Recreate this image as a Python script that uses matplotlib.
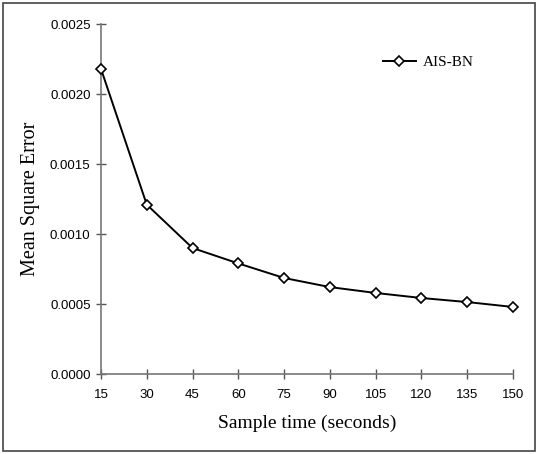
import matplotlib
matplotlib.use("Agg")
import matplotlib.pyplot as plt
from matplotlib.patches import Rectangle

sample_time = [15, 30, 45, 60, 75, 90, 105, 120, 135, 150]
mse_aisbn = [0.00218, 0.00121, 0.00090, 0.00079, 0.000686, 0.000621,
             0.000579, 0.000543, 0.000514, 0.000479]
y_ticks = [0.0, 0.0005, 0.0010, 0.0015, 0.0020, 0.0025]

fig = plt.figure(figsize=(5.38, 4.54), dpi=100)
ax = fig.add_axes([0.1877, 0.1762, 0.7658, 0.7708])

ax.plot(sample_time, mse_aisbn, color="black", lw=1.4, marker="D",
        markersize=5, markerfacecolor="white", markeredgecolor="black",
        markeredgewidth=1.2, clip_on=False, label="AIS-BN", zorder=3)

ax.set_xlim(15, 150)
ax.set_ylim(0, 0.0025)
ax.set_xticks(sample_time)
ax.set_yticks(y_ticks)
ax.set_yticklabels(["%.4f" % v for v in y_ticks])

for s in ["top", "right"]:
    ax.spines[s].set_visible(False)
for s in ["left", "bottom"]:
    ax.spines[s].set_color("#777777")
    ax.spines[s].set_linewidth(1.2)

ax.tick_params(direction="inout", length=7, width=1.0, color="#555555",
               labelsize=9.5)
ax.tick_params(axis="x", pad=7)
ax.tick_params(axis="y", pad=4)
for lbl in ax.get_xticklabels() + ax.get_yticklabels():
    lbl.set_fontfamily("Liberation Sans")

ax.set_xlabel("Sample time (seconds)", fontfamily="Liberation Serif",
              fontsize=14, labelpad=10)
ax.set_ylabel("Mean Square Error", fontfamily="Liberation Serif",
              fontsize=14.5, labelpad=7)

leg = ax.legend(loc="upper right", bbox_to_anchor=(0.937, 0.95), frameon=False,
                prop={"family": "Liberation Serif", "size": 11},
                handlelength=2.2, handletextpad=0.4)

fig.patches.append(Rectangle((0.006, 0.007), 0.988, 0.986, transform=fig.transFigure,
                             fill=False, edgecolor="#444444", lw=1.2))

fig.savefig("out.png", dpi=100)
